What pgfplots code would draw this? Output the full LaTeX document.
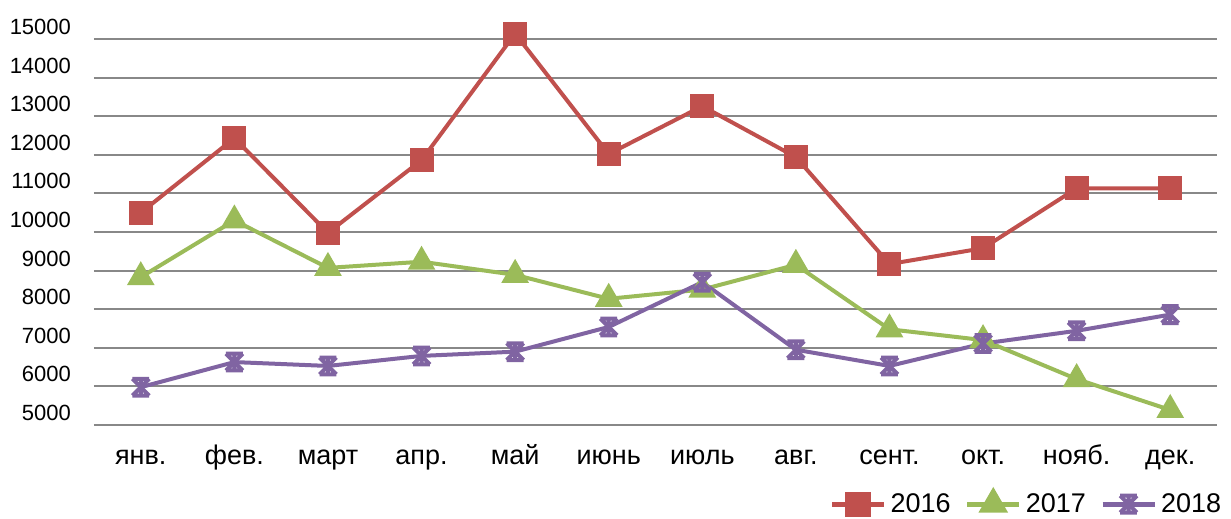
\documentclass[border=0pt]{standalone}
\usepackage{pgfplots}
\pgfplotsset{compat=1.18}
\usepackage{fontspec}
\setmainfont{Liberation Sans}

\definecolor{c16}{RGB}{192,80,77}
\definecolor{c17}{RGB}{155,187,89}
\definecolor{c18}{RGB}{128,100,162}
\definecolor{gridc}{RGB}{136,136,136}

% hourglass-like star marker (Excel style)
\pgfdeclareplotmark{xbar}{%
  \pgfpathmoveto{\pgfqpoint{-\pgfplotmarksize}{\pgfplotmarksize}}%
  \pgfpathlineto{\pgfqpoint{\pgfplotmarksize}{\pgfplotmarksize}}%
  \pgfpathmoveto{\pgfqpoint{-\pgfplotmarksize}{-\pgfplotmarksize}}%
  \pgfpathlineto{\pgfqpoint{\pgfplotmarksize}{-\pgfplotmarksize}}%
  \pgfpathmoveto{\pgfqpoint{-\pgfplotmarksize}{\pgfplotmarksize}}%
  \pgfpathlineto{\pgfqpoint{\pgfplotmarksize}{-\pgfplotmarksize}}%
  \pgfpathmoveto{\pgfqpoint{\pgfplotmarksize}{\pgfplotmarksize}}%
  \pgfpathlineto{\pgfqpoint{-\pgfplotmarksize}{-\pgfplotmarksize}}%
  \pgfpathmoveto{\pgfqpoint{0pt}{\pgfplotmarksize}}%
  \pgfpathlineto{\pgfqpoint{0pt}{-\pgfplotmarksize}}%
  \pgfusepathqstroke}

\begin{document}
\begin{tikzpicture}
\begin{axis}[
    scale only axis,
    width=561.5pt, height=193pt,
    xmin=-0.5, xmax=11.5,
    ymin=5000, ymax=15000,
    ytick distance=1000,
    scaled y ticks=false,
    xtick={0,...,11},
    xticklabels={янв., фев., март, апр., май, июнь, июль, авг., сент., окт., нояб., дек.},
    axis line style={draw=none},
    major tick length=0pt,
    ymajorgrids,
    grid style={gridc, line width=1pt},
    clip=false,
    /pgf/number format/assume math mode=true,
    /pgf/number format/1000 sep={},
    /pgf/number format/fixed,
    /pgf/number format/precision=0,
    yticklabel style={yshift=6pt, xshift=-8pt, font=\fontsize{11}{13}\selectfont},
    xticklabel style={yshift=-8pt, font=\fontsize{13.5}{15}\selectfont,
      text height=1.6ex, text depth=0.3ex},
    legend style={at={(1.013,-0.205)}, anchor=east, draw=none, fill=none,
      legend columns=-1, font=\fontsize{13.5}{15}\selectfont,
      /tikz/every even column/.append style={column sep=5pt}},
    legend image code/.code={
      \draw[#1, line width=2.6pt, mark repeat=2, mark phase=2]
        plot coordinates {(0pt,0pt) (13pt,0pt) (26pt,0pt)};},
    every axis plot/.append style={line width=2pt},
]
\addplot[c16, mark=square*, mark size=5pt, mark options={solid}] coordinates {
  (0,10500) (1,12430) (2,9980) (3,11860) (4,15140) (5,12020)
  (6,13260) (7,11940) (8,9170) (9,9580) (10,11130) (11,11130)
};
\addplot[c17, mark=triangle*, mark size=6pt, mark options={solid}] coordinates {
  (0,8830) (1,10300) (2,9070) (3,9230) (4,8890) (5,8270)
  (6,8510) (7,9150) (8,7480) (9,7200) (10,6190) (11,5390)
};
\addplot[c18, mark=xbar, mark size=4.2pt, mark options={solid, line width=2pt}] coordinates {
  (0,5980) (1,6630) (2,6530) (3,6790) (4,6900) (5,7540)
  (6,8700) (7,6950) (8,6530) (9,7110) (10,7440) (11,7860)
};
\legend{2016, 2017, 2018}
\end{axis}
\pgfresetboundingbox
\path ([xshift=-47pt,yshift=19.5pt]current axis.north west) rectangle
      ([xshift=7pt,yshift=-47pt]current axis.south east);
\end{tikzpicture}
\end{document}
